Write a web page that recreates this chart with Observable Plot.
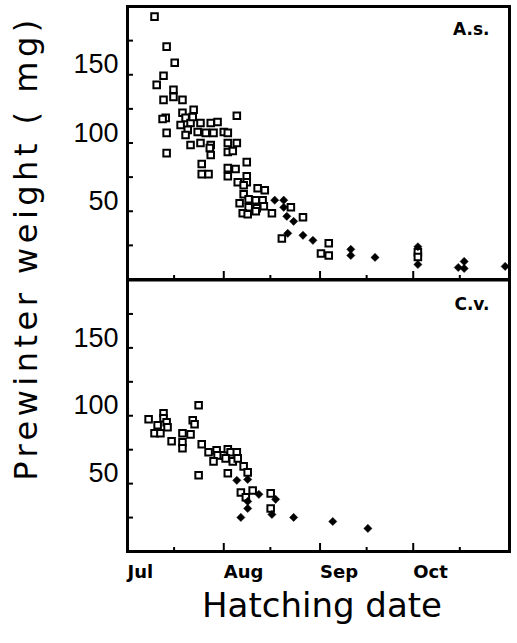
<!DOCTYPE html>
<html>
<head>
<meta charset="utf-8">
<script src="https://cdn.jsdelivr.net/npm/d3@7"></script>
<script src="https://cdn.jsdelivr.net/npm/@observablehq/plot@0.6"></script>
<style>
  html, body { margin: 0; padding: 0; background: white; }
  #wrap { position: relative; width: 517px; height: 643px; overflow: hidden; background: white; }
  #wrap > .p { position: absolute; left: 0; }
  #ylab { position: absolute; left: 26px; top: 248px; width: 540px; height: 32px; line-height: 32px;
          font-family: "DejaVu Sans", sans-serif; font-size: 32px; letter-spacing: 4.5px; text-align: center;
          white-space: nowrap; transform: translate(-50%, -50%) rotate(-90deg); color: black; }
</style>
</head>
<body>
<div id="wrap"></div>
<script>
// Days are counted from 1 July (day 0); values in mg.
const monthTicks = [0, 31, 62, 92];
const monthLabels = ["Jul", "Aug", "Sep", "Oct"];
const majorDayTicks = [31, 62, 92];
const minorDayTicks = [15, 46, 77, 107];
const weightTicks = [25, 50, 75, 100, 125, 150, 175];
const weightLabels = [50, 100, 150];
const panelLabels = ["A.s.", "C.v."];

// Panel A.s. — open squares
const asSqDay = [8.7, 12.6, 15.2, 11.6, 9.4, 14.8, 11.6, 14.8, 17.7, 21.3, 35.2, 12.3, 11.3, 17.7, 18.7, 20.3, 17.1, 12.6,
  21.0, 23.5, 26.8, 29.0, 19.4, 22.6, 25.2, 27.7, 31.0, 32.3, 20.3, 23.5, 26.8, 26.8, 32.3, 35.2, 32.3, 12.6, 18.7, 26.5,
  33.9, 23.9, 23.9, 26.1, 38.4, 32.3, 34.8, 32.3, 38.4, 35.5, 38.4, 37.4, 41.9, 44.2, 37.4, 39.0, 41.3, 43.5, 36.1, 39.0,
  41.6, 43.9, 37.1, 38.7, 41.3, 46.5, 52.6, 56.5, 49.7, 64.8, 62.3, 64.8, 93.5, 93.5];
const asSqMg = [192.6, 170.6, 158.8, 149.3, 142.6, 139.0, 131.6, 133.8, 131.6, 124.3, 119.9, 118.4, 117.6, 122.1, 118.4, 114.7, 113.2, 107.4,
  119.1, 114.7, 114.7, 115.4, 109.6, 108.1, 107.4, 107.4, 108.1, 107.4, 98.5, 100.0, 98.5, 91.2, 100.0, 100.0, 93.4, 92.6, 105.9, 96.3,
  94.1, 84.6, 77.2, 77.2, 86.0, 81.6, 80.9, 75.7, 75.7, 71.3, 71.3, 69.1, 66.9, 65.4, 62.5, 58.8, 58.1, 58.1, 55.9, 52.9,
  52.2, 53.7, 48.5, 47.8, 50.0, 48.5, 52.9, 45.6, 30.1, 26.5, 19.1, 17.6, 20.0, 16.5];
// Panel A.s. — filled diamonds
const asDiDay = [47.4, 50.3, 50.3, 51.3, 53.5, 51.6, 56.5, 59.7, 71.9, 71.9, 79.7, 93.5, 93.5, 106.5, 108.4, 108.4, 121.6];
const asDiMg = [58.1, 58.1, 52.9, 46.3, 42.6, 33.8, 32.4, 28.7, 22.1, 17.6, 16.2, 24.0, 11.0, 8.8, 13.2, 8.1, 9.6];

// Panel C.v. — open squares
const cvSqDay = [22.9, 6.8, 11.6, 11.6, 9.7, 12.6, 12.9, 8.7, 10.6, 14.2, 21.0, 21.6, 17.7, 20.3, 17.7, 17.7, 23.9, 26.1,
  28.7, 29.0, 27.7, 31.0, 32.3, 33.2, 35.2, 31.6, 33.9, 35.5, 37.4, 38.7, 22.9, 32.3, 36.5, 38.1, 40.3, 46.1, 46.1];
const cvSqMg = [107.7, 97.4, 101.8, 98.2, 93.0, 95.2, 91.5, 87.1, 87.1, 81.2, 96.7, 93.7, 87.1, 86.3, 80.4, 76.0, 79.0, 73.1,
  74.5, 70.8, 66.4, 70.8, 75.3, 73.1, 73.1, 68.6, 66.4, 68.6, 62.7, 58.3, 56.1, 57.6, 43.5, 39.9, 45.0, 42.8, 31.7];
// Panel C.v. — filled diamonds
const cvDiDay = [35.2, 38.7, 42.3, 38.7, 38.7, 36.5, 47.7, 46.5, 53.5, 66.1, 77.4];
const cvDiMg = [52.4, 53.1, 42.1, 36.9, 31.7, 25.1, 38.4, 27.3, 25.1, 22.1, 17.0];

const W = 517, ML = 127, MR = 8;
const frameW = W - ML - MR;

function panel({sqDay, sqMg, diDay, diMg, label, height, marginTop, marginBottom, labelDy, withMonths}) {
  const frameH = height - marginTop - marginBottom;
  const squares = sqDay.map((d, i) => ({day: d, mg: sqMg[i]}));
  const diamonds = diDay.map((d, i) => ({day: d, mg: diMg[i]}));
  const marks = [
    Plot.tickY(weightTicks, {y: d => d, insetRight: frameW - 6, stroke: "black", strokeWidth: 2}),
    Plot.tickX(majorDayTicks, {x: d => d, insetTop: frameH - 8, stroke: "black", strokeWidth: 2}),
    Plot.tickX(minorDayTicks, {x: d => d, insetTop: frameH - 4, stroke: "black", strokeWidth: 2}),
    Plot.text(weightLabels, {y: d => d, text: d => String(d), frameAnchor: "left", textAnchor: "end", lineAnchor: "middle",
      dx: -9, dy: -10, fontSize: 27, fontFamily: "Liberation Sans", fill: "black"}),
    Plot.dot(squares, {x: "day", y: "mg", symbol: "square", r: 3.7, fill: "white", stroke: "black", strokeWidth: 2}),
    Plot.dot(diamonds, {x: "day", y: "mg", symbol: d3.symbolDiamond2 || "diamond", r: 3.7, fill: "black", stroke: "black", strokeWidth: 0.5}),
    Plot.text([label], {text: d => d, frameAnchor: "top-right", textAnchor: "end", lineAnchor: "middle", dx: -20, dy: labelDy,
      fontSize: 17, fontWeight: "bold", fontFamily: "DejaVu Sans", fill: "black"}),
    Plot.frame({stroke: "black", strokeWidth: 3})
  ];
  if (withMonths) {
    marks.push(Plot.text(monthTicks, {x: d => d, text: (d, i) => monthLabels[i], frameAnchor: "bottom", textAnchor: "start",
      lineAnchor: "middle", dy: 21, fontSize: 18, fontWeight: "bold", fontFamily: "DejaVu Sans", fill: "black"}));
    marks.push(Plot.text(["Hatching date"], {text: d => d, frameAnchor: "bottom", lineAnchor: "middle", dx: 3.5, dy: 55,
      fontSize: 34, fontFamily: "DejaVu Sans", fill: "black"}));
  }
  return Plot.plot({
    width: W, height, marginLeft: ML, marginRight: MR, marginTop, marginBottom,
    x: {domain: [0, 123], axis: null},
    y: {domain: [0, 200], axis: null},
    style: {background: "transparent", fontFamily: "DejaVu Sans", overflow: "visible"},
    marks
  });
}

const wrap = document.getElementById("wrap");
const topPanel = panel({sqDay: asSqDay, sqMg: asSqMg, diDay: asDiDay, diMg: asDiMg, label: panelLabels[0],
  height: 281, marginTop: 6, marginBottom: 2, labelDy: 23, withMonths: false});
topPanel.classList.add("p"); topPanel.style.top = "0px";
const bottomPanel = panel({sqDay: cvSqDay, sqMg: cvSqMg, diDay: cvDiDay, diMg: cvDiMg, label: panelLabels[1],
  height: 365, marginTop: 1.5, marginBottom: 92, labelDy: 24.5, withMonths: true});
bottomPanel.classList.add("p"); bottomPanel.style.top = "278px";
wrap.appendChild(topPanel);
wrap.appendChild(bottomPanel);
const yl = document.createElement("div");
yl.id = "ylab";
yl.textContent = "Prewinter weight ( mg)";
wrap.appendChild(yl);
</script>
</body>
</html>
